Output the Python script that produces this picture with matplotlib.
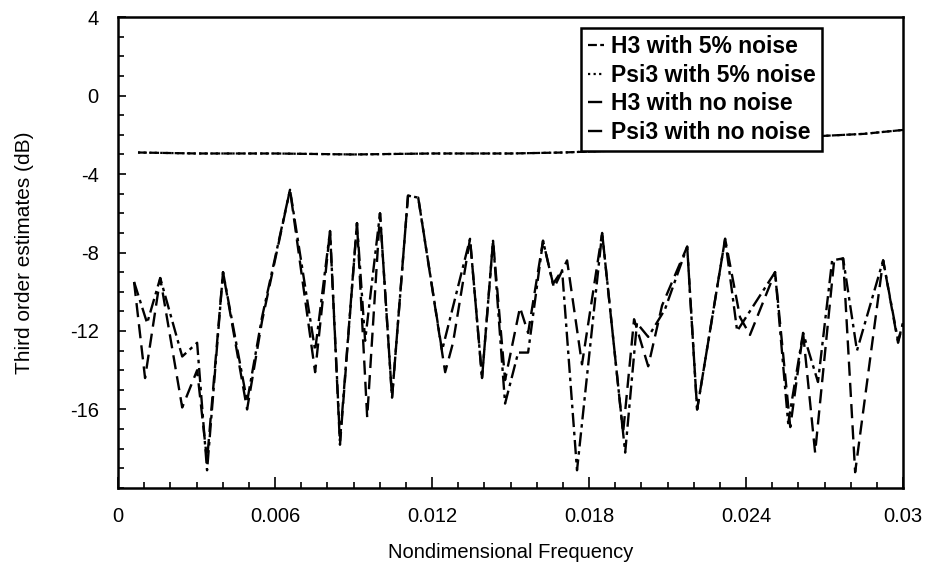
import numpy as np
import matplotlib
matplotlib.use("Agg")
import matplotlib.pyplot as plt
from matplotlib.ticker import MultipleLocator, FixedLocator

plt.rcParams["font.family"] = ["Liberation Sans", "DejaVu Sans"]
plt.rcParams["axes.unicode_minus"] = False

# H3 with no noise (dash-dot)
f_h3 = [0.00061, 0.00111, 0.00161, 0.00245, 0.00302, 0.00340, 0.00401, 0.00493,
        0.00550, 0.00657, 0.00753, 0.00810, 0.00848, 0.00913, 0.00944, 0.01001,
        0.01047, 0.01108, 0.01147, 0.01238, 0.01345, 0.01391, 0.01433, 0.01479,
        0.01529, 0.01567, 0.01624, 0.01662, 0.01697, 0.01754, 0.01850, 0.01938,
        0.01983, 0.02026, 0.02090, 0.02175, 0.02213, 0.02320, 0.02366, 0.02511,
        0.02561, 0.02618, 0.02675, 0.02729, 0.02771, 0.02824, 0.02924, 0.02981,
        0.03000]
h3 = [-9.5, -11.6, -9.3, -13.3, -12.6, -19.1, -9.0, -15.6,
      -11.3, -4.8, -13.0, -6.9, -17.6, -6.5, -12.5, -6.0,
      -15.4, -5.1, -5.2, -13.0, -7.3, -14.4, -7.4, -15.7,
      -13.1, -13.1, -7.4, -9.6, -8.9, -19.1, -7.0, -18.2,
      -11.6, -12.3, -10.9, -7.7, -16.0, -7.3, -12.0, -9.0,
      -16.7, -12.1, -14.6, -8.4, -8.3, -13.0, -8.4, -12.5,
      -11.6]

# Psi3 with no noise (dashed)
f_psi3 = [0.00061, 0.00103, 0.00161, 0.00245, 0.00302, 0.00340, 0.00401, 0.00493,
          0.00550, 0.00657, 0.00753, 0.00810, 0.00848, 0.00913, 0.00952, 0.01001,
          0.01047, 0.01108, 0.01147, 0.01250, 0.01280, 0.01345, 0.01391, 0.01433,
          0.01479, 0.01536, 0.01567, 0.01624, 0.01666, 0.01716, 0.01773, 0.01850,
          0.01930, 0.01972, 0.02026, 0.02079, 0.02175, 0.02213, 0.02320, 0.02377,
          0.02415, 0.02511, 0.02569, 0.02618, 0.02664, 0.02736, 0.02771, 0.02817,
          0.02924, 0.02981, 0.03000]
psi3 = [-9.5, -14.4, -9.3, -15.9, -14.0, -18.6, -9.0, -16.0,
        -11.5, -4.8, -14.1, -6.9, -17.8, -6.5, -16.4, -6.0,
        -15.4, -5.1, -5.2, -14.1, -12.6, -7.3, -14.4, -7.4,
        -14.5, -10.8, -12.1, -7.4, -9.8, -8.4, -13.7, -7.0,
        -17.2, -11.4, -13.8, -10.7, -7.7, -16.0, -7.3, -11.3,
        -12.2, -9.0, -16.9, -12.1, -18.2, -8.5, -8.3, -19.2,
        -8.4, -12.6, -11.6]

# 5% noise estimates (top curves)
f_noise = [0.00076, 0.0030, 0.0060, 0.0090, 0.0120, 0.0150, 0.0170,
           0.0190, 0.0220, 0.0250, 0.0270, 0.0285, 0.0300]
h3_noise = [-2.9, -2.95, -2.95, -3.0, -2.95, -2.95, -2.9,
            -2.8, -2.6, -2.3, -2.05, -1.95, -1.75]
psi3_noise = [-2.9, -2.95, -2.95, -3.0, -2.95, -2.95, -2.9,
              -2.8, -2.6, -2.3, -2.05, -1.95, -1.75]

fig = plt.figure(figsize=(9.3, 5.72), dpi=100)
ax = fig.add_axes([0.127, 0.147, 0.844, 0.823])

ax.plot(f_noise, h3_noise, color="black", linestyle=(0, (4, 1.5)), linewidth=1.6,
        label="H3 with 5% noise")
ax.plot(f_noise, psi3_noise, color="black", linestyle=(0, (1, 1.5)), linewidth=1.6,
        label="Psi3 with 5% noise")
ax.plot(f_h3, h3, color="black", linestyle=(0, (6, 2, 1.5, 2)), linewidth=1.7,
        label="H3 with no noise")
ax.plot(f_psi3, psi3, color="black", linestyle=(0, (6, 3)), linewidth=1.7,
        label="Psi3 with no noise")

ax.set_xlim(0, 0.03)
ax.set_ylim(-20, 4)
ax.xaxis.set_major_locator(FixedLocator([0, 0.006, 0.012, 0.018, 0.024, 0.03]))
ax.set_xticklabels(["0", "0.006", "0.012", "0.018", "0.024", "0.03"])
ax.xaxis.set_minor_locator(MultipleLocator(0.001))
ax.yaxis.set_major_locator(FixedLocator([4, 0, -4, -8, -12, -16]))
ax.set_yticklabels(["4", "0", "-4", "-8", "-12", "-16"])
ax.yaxis.set_minor_locator(MultipleLocator(1))
ax.tick_params(which="both", direction="in", top=False, right=False,
               labelsize=14.5, width=1.2)
ax.tick_params(axis="x", which="major", length=8, pad=14)
ax.tick_params(axis="y", which="major", length=6, pad=14)
ax.tick_params(which="minor", length=4)
for s in ax.spines.values():
    s.set_linewidth(1.8)

ax.set_xlabel("Nondimensional Frequency", fontsize=14.5, labelpad=12)
ax.set_ylabel("Third order estimates (dB)", fontsize=15, labelpad=26)

leg = ax.legend(loc="upper right", bbox_to_anchor=(0.897, 0.977),
                prop={"weight": "bold", "size": 16.5}, borderaxespad=0,
                handlelength=0.7, handletextpad=0.3, labelspacing=0.25,
                borderpad=0.3, fancybox=False, framealpha=1)
leg.get_frame().set_edgecolor("black")
leg.get_frame().set_linewidth(1.8)

fig.savefig("out.png", dpi=100)
